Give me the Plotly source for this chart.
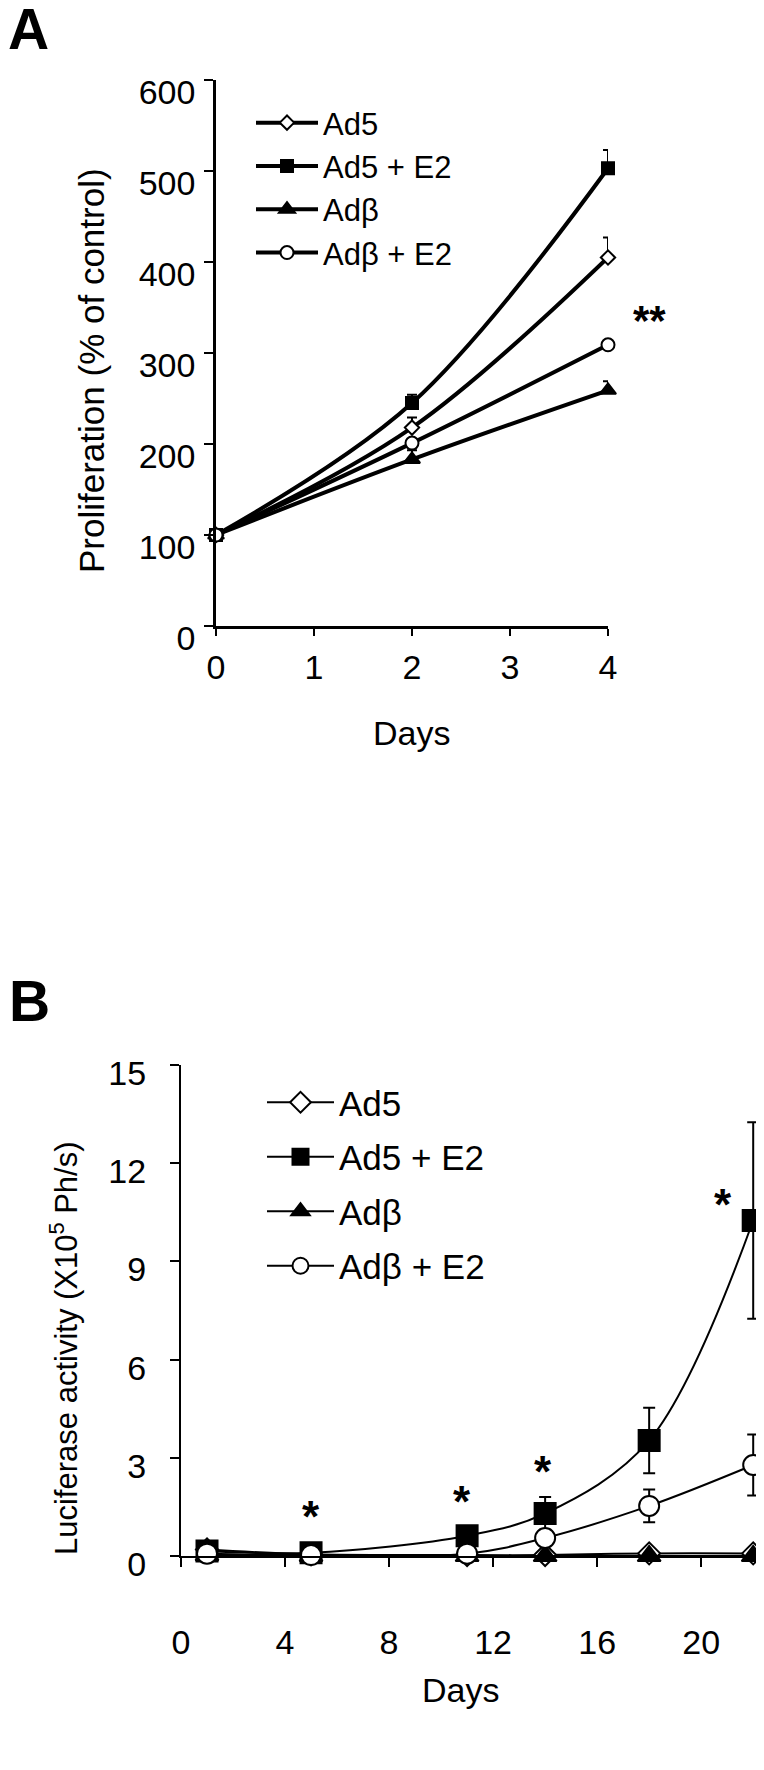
import plotly.graph_objects as go

# Panel A - proliferation (% of control)
days_a = [0, 2, 4]
a_ad5 = [100, 218, 405]
a_ad5_err = [0, 11, 22]
a_ad5e2 = [100, 245, 503]
a_ad5e2_err = [0, 9, 20]
a_adb = [100, 183, 259]
a_adb_err = [0, 10, 10]
a_adbe2 = [100, 201, 309]
a_adbe2_err = [0, 3, 4]

# Panel B - luciferase activity (x10^5 Ph/s)
days_b = [1, 5, 11, 14, 18, 22]
b_ad5 = [0.2, 0.05, 0.03, 0.03, 0.08, 0.08]
b_ad5e2 = [0.15, 0.1, 0.62, 1.3, 3.53, 10.25]
b_ad5e2_err = [0.05, 0.05, 0.1, 0.5, 1.0, 3.0]
b_adb = [0.02, 0.0, 0.0, 0.0, 0.0, 0.0]
b_adbe2 = [0.07, 0.03, 0.07, 0.55, 1.53, 2.78]
b_adbe2_err = [0.03, 0.03, 0.05, 0.15, 0.5, 0.93]

# significance stars in panel B (day, level)
star_days = [5, 10.8, 13.9, 20.85]
star_levels = [1.2, 1.65, 2.57, 10.75]

names = ["Ad5", "Ad5 + E2", "Adβ", "Adβ + E2"]
FONT = "Liberation Sans, Arial, sans-serif"
W, H = 764, 1770
OFF = 8  # page body margin, the figure starts 8px in


def px(x):
    return (x - OFF) / W


def py(y):
    return 1 - (y - OFF) / H


fig = go.Figure()

# marker styles: symbol, fill
styles = [("diamond", "white"), ("square", "black"), ("triangle-up", "black"), ("circle", "white")]
sizes_a = [11, 12, 14, 13]
series_a = [(a_ad5, a_ad5_err), (a_ad5e2, a_ad5e2_err), (a_adb, a_adb_err), (a_adbe2, a_adbe2_err)]
for name, (sym, fill), sz, (vals, err) in zip(names, styles, sizes_a, series_a):
    fig.add_trace(go.Scatter(
        x=days_a, y=vals, name=name, mode="lines+markers",
        line=dict(color="black", width=4, shape="spline"),
        marker=dict(symbol=sym, size=sz, color=fill, line=dict(color="black", width=2)),
        error_y=dict(type="data", array=err, arrayminus=[0] * len(err), symmetric=False,
                     color="black", thickness=2, width=5),
        cliponaxis=False, xaxis="x", yaxis="y", legend="legend",
    ))

sizes_b = [17, 21, 20, 20]
series_b = [(b_ad5, None), (b_ad5e2, b_ad5e2_err), (b_adb, None), (b_adbe2, b_adbe2_err)]
for i, (name, (sym, fill), sz, (vals, err)) in enumerate(zip(names, styles, sizes_b, series_b)):
    ey = None
    if err is not None:
        ey = dict(type="data", array=err, color="black", thickness=2, width=6)
    fig.add_trace(go.Scatter(
        x=days_b, y=vals, name=name, mode="lines+markers",
        line=dict(color="black", width=2, shape="spline"),
        marker=dict(symbol=sym, size=sz, color=fill, line=dict(color="black", width=2)),
        error_y=ey, legendgroup=f"b{i}",
        cliponaxis=False, xaxis="x2", yaxis="y2", legend="legend2",
    ))

axis_common = dict(showline=True, linecolor="black", showgrid=False, zeroline=False,
                   ticks="outside", tickcolor="black", tickfont=dict(family=FONT, size=34, color="black"))

fig.update_layout(
    width=W, height=H, margin=dict(l=0, r=0, t=0, b=0, autoexpand=False),
    plot_bgcolor="white", paper_bgcolor="white",
    font=dict(family=FONT, color="black"),
    xaxis=dict(domain=[px(216), px(608)], range=[0, 4], dtick=1, ticklen=7, tickwidth=2,
               linewidth=2.5, ticklabelstandoff=2, anchor="y", **axis_common),
    yaxis=dict(domain=[py(626), py(80)], range=[0, 600], dtick=100, ticklen=9, tickwidth=2,
               linewidth=2.5, ticklabelstandoff=2, ticklabelshift=12, anchor="x", **axis_common),
    xaxis2=dict(domain=[px(181), px(761)], range=[0, 22.3], tickvals=[0, 4, 8, 12, 16, 20],
                ticklen=9, tickwidth=1.5, linewidth=2, ticklabelstandoff=46, anchor="y2",
                **axis_common),
    yaxis2=dict(domain=[py(1556), py(1065)], range=[0, 15], dtick=3, ticklen=9, tickwidth=2,
                linewidth=2, ticklabelstandoff=17, ticklabelshift=8, anchor="x2", **axis_common),
    legend=dict(x=px(251), y=py(96), xanchor="left", yanchor="top", bgcolor="rgba(0,0,0,0)",
                font=dict(family=FONT, size=31, color="black"), itemwidth=62),
    legend2=dict(x=px(262), y=py(1073), xanchor="left", yanchor="top", bgcolor="rgba(0,0,0,0)",
                 font=dict(family=FONT, size=35, color="black"), itemwidth=67,
                 tracegroupgap=6),
)

ann = []


def label(text, x, y, size, angle=0):
    ann.append(dict(text=text, x=px(x), y=py(y), xref="paper", yref="paper",
                    xanchor="center", yanchor="middle", textangle=angle,
                    showarrow=False, font=dict(size=size, family=FONT)))


label("<b>A</b>", 28, 29, 57)
label("<b>B</b>", 29, 1001, 57)
label("Proliferation (% of control)", 91, 371, 35, -90)
label("Days", 411, 733, 34)
label("Luciferase activity (X10<sup>5</sup> Ph/s)", 64, 1348, 31, -90)
label("Days", 461, 1690, 34)

ann.append(dict(text="<b>**</b>", x=4, y=336, xref="x", yref="y", xshift=41,
                showarrow=False, font=dict(size=42, family=FONT)))
for d, lv in zip(star_days, star_levels):
    ann.append(dict(text="<b>*</b>", x=d, y=lv, xref="x2", yref="y2",
                    showarrow=False, font=dict(size=44, family=FONT)))
fig.update_layout(annotations=ann)

fig.write_html("out.html")
